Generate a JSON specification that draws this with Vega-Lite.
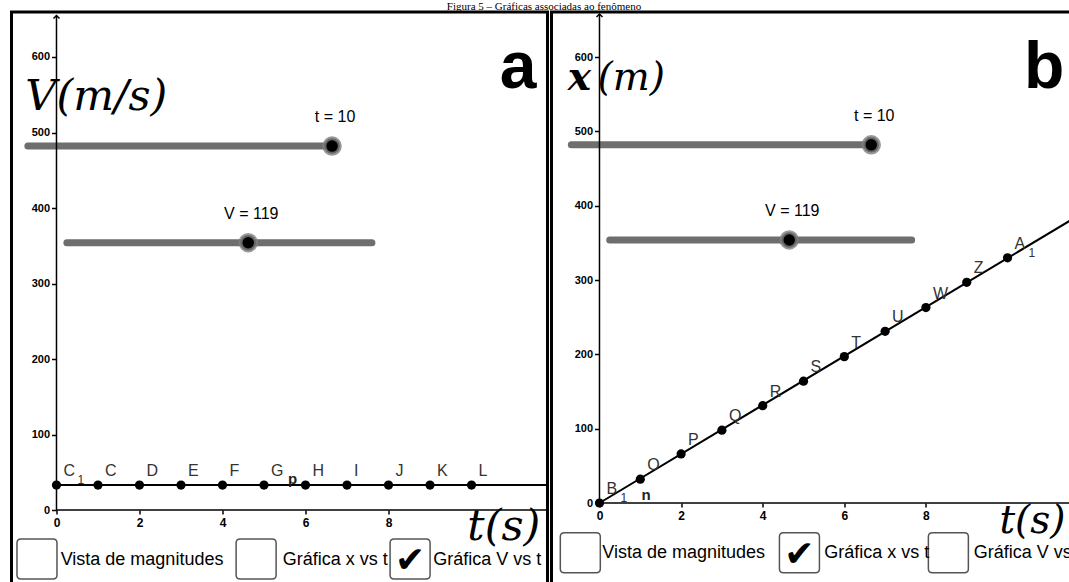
{
  "$schema": "https://vega.github.io/schema/vega-lite/v6.json",
  "background": "white",
  "padding": {"left": 9.5, "top": 0, "right": 0, "bottom": 0},
  "spacing": 0,
  "title": {"text": "Figura 5 – Gráficas associadas ao fenômeno", "font": "Liberation Serif", "fontSize": 11, "fontWeight": "normal", "color": "black", "offset": -2, "anchor": "middle"},
  "config": {
    "view": {"stroke": "black", "strokeWidth": 3, "fill": "white"},
    "concat": {"spacing": 0},
    "axis": {"grid": false, "domain": false, "ticks": true, "tickColor": "black", "tickWidth": 1.5, "labelColor": "black", "labelFont": "Liberation Sans", "labelFontWeight": "bold", "title": null, "labelOverlap": false, "labelFlush": false, "zindex": 1}
  },
  "datasets": {
    "a": [
      {"kind": "axis", "t": 0, "v": 0, "t2": 0, "v2": 655},
      {"kind": "axis", "t": 0, "v": 0, "t2": 12.5, "v2": 0},
      {"kind": "arrow", "t": 0, "v": 655},
      {"kind": "line", "t": 0, "v": 33, "t2": 12.5, "v2": 33},
      {"kind": "pt", "t": 0, "v": 33, "label": "C", "sub": "1"},
      {"kind": "pt", "t": 1, "v": 33, "label": "C"},
      {"kind": "pt", "t": 2, "v": 33, "label": "D"},
      {"kind": "pt", "t": 3, "v": 33, "label": "E"},
      {"kind": "pt", "t": 4, "v": 33, "label": "F"},
      {"kind": "pt", "t": 5, "v": 33, "label": "G"},
      {"kind": "pt", "t": 6, "v": 33, "label": "H"},
      {"kind": "pt", "t": 7, "v": 33, "label": "I"},
      {"kind": "pt", "t": 8, "v": 33, "label": "J"},
      {"kind": "pt", "t": 9, "v": 33, "label": "K"},
      {"kind": "pt", "t": 10, "v": 33, "label": "L"},
      {"kind": "stray", "t": 5.69, "v": 35, "label": "p"},
      {"kind": "slider", "t": -0.69, "v": 482, "t2": 6.64, "v2": 482},
      {"kind": "slider", "t": 0.25, "v": 354, "t2": 7.6, "v2": 354},
      {"kind": "knob", "t": 6.64, "v": 482, "label": "t = 10"},
      {"kind": "knob", "t": 4.62, "v": 354, "label": "V = 119"},
      {"kind": "serif", "t": -0.75, "v": 530, "label": "V(m/s)"},
      {"kind": "serif", "t": 9.9, "v": -40, "label": "t(s)"},
      {"kind": "letter", "t": 11.12, "v": 559, "label": "a"},
      {"kind": "box", "t": -0.47, "v": -65, "checked": false},
      {"kind": "box", "t": 4.81, "v": -65, "checked": false},
      {"kind": "box", "t": 8.52, "v": -65, "checked": true},
      {"kind": "boxlabel", "t": 0.1, "v": -73, "label": "Vista de magnitudes"},
      {"kind": "boxlabel", "t": 5.45, "v": -73, "label": "Gráfica x vs t"},
      {"kind": "boxlabel", "t": 9.08, "v": -73, "label": "Gráfica V vs t"}
    ],
    "b": [
      {"kind": "axis", "t": 0, "v": 0, "t2": 0, "v2": 658},
      {"kind": "axis", "t": 0, "v": 0, "t2": 12.5, "v2": 0},
      {"kind": "arrow", "t": 0, "v": 658},
      {"kind": "line", "t": 0, "v": 0, "t2": 12.5, "v2": 412},
      {"kind": "pt", "t": 0, "v": 0, "label": "B", "sub": "1"},
      {"kind": "pt", "t": 1, "v": 32, "label": "O"},
      {"kind": "pt", "t": 2, "v": 66, "label": "P"},
      {"kind": "pt", "t": 3, "v": 98, "label": "Q"},
      {"kind": "pt", "t": 4, "v": 131, "label": "R"},
      {"kind": "pt", "t": 5, "v": 164, "label": "S"},
      {"kind": "pt", "t": 6, "v": 197, "label": "T"},
      {"kind": "pt", "t": 7, "v": 231, "label": "U"},
      {"kind": "pt", "t": 8, "v": 263, "label": "W"},
      {"kind": "pt", "t": 9, "v": 297, "label": "Z"},
      {"kind": "pt", "t": 10, "v": 330, "label": "A", "sub": "1"},
      {"kind": "stray", "t": 1.14, "v": 4, "label": "n"},
      {"kind": "slider", "t": -0.69, "v": 482, "t2": 6.66, "v2": 482},
      {"kind": "slider", "t": 0.25, "v": 354, "t2": 7.65, "v2": 354},
      {"kind": "knob", "t": 6.66, "v": 482, "label": "t = 10"},
      {"kind": "knob", "t": 4.65, "v": 354, "label": "V = 119"},
      {"kind": "serifbold", "t": -0.78, "v": 556, "label": "x"},
      {"kind": "serif", "t": -0.05, "v": 556, "label": "(m)"},
      {"kind": "serif", "t": 9.8, "v": -40, "label": "t(s)"},
      {"kind": "letter", "t": 10.9, "v": 558, "label": "b"},
      {"kind": "box", "t": -0.47, "v": -67, "checked": false},
      {"kind": "box", "t": 4.9, "v": -67, "checked": true},
      {"kind": "box", "t": 8.55, "v": -67, "checked": false},
      {"kind": "boxlabel", "t": 0.07, "v": -74, "label": "Vista de magnitudes"},
      {"kind": "boxlabel", "t": 5.51, "v": -74, "label": "Gráfica x vs t"},
      {"kind": "boxlabel", "t": 9.17, "v": -74, "label": "Gráfica V vs t"}
    ]
  },
  "hconcat": [
    {
      "width": 536,
      "height": 572,
      "data": {"name": "a"},
      "encoding": {
        "x": {"field": "t", "type": "quantitative", "scale": {"domain": [-1.084, 11.831], "nice": false, "zero": false}, "axis": {"orient": "bottom", "offset": -74, "values": [0, 2, 4, 6, 8], "tickSize": 4, "labelPadding": 3, "labelFontSize": 12}},
        "y": {"field": "v", "type": "quantitative", "scale": {"domain": [-98, 659.6], "nice": false, "zero": false}, "axis": {"orient": "left", "offset": -45, "values": [0, 100, 200, 300, 400, 500, 600], "tickSize": 5, "labelPadding": 2, "labelFontSize": 11}}
      },
      "layer": [
        {"transform": [{"filter": "datum.kind === 'slider'"}], "mark": {"type": "rule", "strokeWidth": 7, "strokeCap": "round", "color": "#6e6e6e"}, "encoding": {"x2": {"field": "t2"}, "y2": {"field": "v2"}}},
        {"transform": [{"filter": "datum.kind === 'axis'"}], "mark": {"type": "rule", "clip": true, "strokeWidth": 1.5, "color": "black"}, "encoding": {"x2": {"field": "t2"}, "y2": {"field": "v2"}}},
        {"transform": [{"filter": "datum.kind === 'arrow'"}], "mark": {"type": "point", "shape": "M-1,1L0,0L1,1", "filled": false, "size": 36, "stroke": "black", "strokeWidth": 1.5, "opacity": 1}},
        {"transform": [{"filter": "datum.kind === 'line'"}], "mark": {"type": "rule", "clip": true, "strokeWidth": 2, "color": "black"}, "encoding": {"x2": {"field": "t2"}, "y2": {"field": "v2"}}},
        {"transform": [{"filter": "datum.kind === 'pt'"}], "mark": {"type": "point", "shape": "circle", "filled": true, "size": 85, "color": "black", "opacity": 1}},
        {"transform": [{"filter": "datum.kind === 'pt'"}], "mark": {"type": "text", "align": "left", "baseline": "alphabetic", "dx": 7, "dy": -9, "font": "Liberation Sans", "fontSize": 16, "color": "#333"}, "encoding": {"text": {"field": "label"}}},
        {"transform": [{"filter": "datum.kind === 'pt' && datum.sub"}], "mark": {"type": "text", "align": "left", "baseline": "alphabetic", "dx": 21, "dy": -1, "font": "Liberation Sans", "fontSize": 12, "color": "#333"}, "encoding": {"text": {"field": "sub"}}},
        {"transform": [{"filter": "datum.kind === 'stray'"}], "mark": {"type": "text", "align": "center", "baseline": "alphabetic", "font": "Liberation Sans", "fontSize": 15, "fontWeight": "bold", "color": "#222"}, "encoding": {"text": {"field": "label"}}},
        {"transform": [{"filter": "datum.kind === 'knob'"}], "mark": {"type": "point", "shape": "circle", "filled": true, "size": 240, "color": "black", "stroke": "#808080", "strokeWidth": 4, "strokeOpacity": 0.8, "opacity": 1}},
        {"transform": [{"filter": "datum.kind === 'knob'"}], "mark": {"type": "text", "align": "center", "baseline": "alphabetic", "dx": 3, "dy": -24, "font": "Liberation Sans", "fontSize": 16, "color": "black"}, "encoding": {"text": {"field": "label"}}},
        {"transform": [{"filter": "datum.kind === 'serif'"}], "mark": {"type": "text", "align": "left", "baseline": "alphabetic", "font": "DejaVu Serif", "fontStyle": "italic", "fontSize": 43, "color": "black"}, "encoding": {"text": {"field": "label"}}},
        {"transform": [{"filter": "datum.kind === 'letter'"}], "mark": {"type": "text", "align": "center", "baseline": "alphabetic", "font": "Liberation Sans", "fontWeight": "bold", "fontSize": 66, "color": "black"}, "encoding": {"text": {"field": "label"}}},
        {"transform": [{"filter": "datum.kind === 'box'"}], "mark": {"type": "point", "shape": "M-0.8,-1L0.8,-1Q1,-1,1,-0.8L1,0.8Q1,1,0.8,1L-0.8,1Q-1,1,-1,0.8L-1,-0.8Q-1,-1,-0.8,-1Z", "size": 1600, "filled": true, "fill": "white", "stroke": "#555", "strokeWidth": 1.5, "opacity": 1}},
        {"transform": [{"filter": "datum.kind === 'box' && datum.checked"}], "mark": {"type": "text", "text": "✔", "align": "center", "baseline": "middle", "dy": 2, "font": "DejaVu Sans", "fontSize": 36, "color": "black"}},
        {"transform": [{"filter": "datum.kind === 'boxlabel'"}], "mark": {"type": "text", "clip": true, "align": "left", "baseline": "alphabetic", "font": "Liberation Sans", "fontSize": 18, "color": "black"}, "encoding": {"text": {"field": "label"}}}
      ]
    },
    {
      "width": 525,
      "height": 572,
      "data": {"name": "b"},
      "encoding": {
        "x": {"field": "t", "type": "quantitative", "scale": {"domain": [-1.176, 11.69], "nice": false, "zero": false}, "axis": {"orient": "bottom", "offset": -81, "values": [0, 2, 4, 6, 8], "tickSize": 4, "labelPadding": 3, "labelFontSize": 12}},
        "y": {"field": "v", "type": "quantitative", "scale": {"domain": [-109, 660.8], "nice": false, "zero": false}, "axis": {"orient": "left", "offset": -48, "values": [0, 100, 200, 300, 400, 500, 600], "tickSize": 5, "labelPadding": 2, "labelFontSize": 11}}
      },
      "layer": [
        {"transform": [{"filter": "datum.kind === 'slider'"}], "mark": {"type": "rule", "strokeWidth": 7, "strokeCap": "round", "color": "#6e6e6e"}, "encoding": {"x2": {"field": "t2"}, "y2": {"field": "v2"}}},
        {"transform": [{"filter": "datum.kind === 'axis'"}], "mark": {"type": "rule", "clip": true, "strokeWidth": 1.5, "color": "black"}, "encoding": {"x2": {"field": "t2"}, "y2": {"field": "v2"}}},
        {"transform": [{"filter": "datum.kind === 'arrow'"}], "mark": {"type": "point", "shape": "M-1,1L0,0L1,1", "filled": false, "size": 36, "stroke": "black", "strokeWidth": 1.5, "opacity": 1}},
        {"transform": [{"filter": "datum.kind === 'line'"}], "mark": {"type": "rule", "clip": true, "strokeWidth": 2, "color": "black"}, "encoding": {"x2": {"field": "t2"}, "y2": {"field": "v2"}}},
        {"transform": [{"filter": "datum.kind === 'pt'"}], "mark": {"type": "point", "shape": "circle", "filled": true, "size": 85, "color": "black", "opacity": 1}},
        {"transform": [{"filter": "datum.kind === 'pt'"}], "mark": {"type": "text", "align": "left", "baseline": "alphabetic", "dx": 7, "dy": -9, "font": "Liberation Sans", "fontSize": 16, "color": "#333"}, "encoding": {"text": {"field": "label"}}},
        {"transform": [{"filter": "datum.kind === 'pt' && datum.sub"}], "mark": {"type": "text", "align": "left", "baseline": "alphabetic", "dx": 21, "dy": -1, "font": "Liberation Sans", "fontSize": 12, "color": "#333"}, "encoding": {"text": {"field": "sub"}}},
        {"transform": [{"filter": "datum.kind === 'stray'"}], "mark": {"type": "text", "align": "center", "baseline": "alphabetic", "font": "Liberation Sans", "fontSize": 15, "fontWeight": "bold", "color": "#222"}, "encoding": {"text": {"field": "label"}}},
        {"transform": [{"filter": "datum.kind === 'knob'"}], "mark": {"type": "point", "shape": "circle", "filled": true, "size": 240, "color": "black", "stroke": "#808080", "strokeWidth": 4, "strokeOpacity": 0.8, "opacity": 1}},
        {"transform": [{"filter": "datum.kind === 'knob'"}], "mark": {"type": "text", "align": "center", "baseline": "alphabetic", "dx": 3, "dy": -24, "font": "Liberation Sans", "fontSize": 16, "color": "black"}, "encoding": {"text": {"field": "label"}}},
        {"transform": [{"filter": "datum.kind === 'serif'"}], "mark": {"type": "text", "align": "left", "baseline": "alphabetic", "font": "DejaVu Serif", "fontStyle": "italic", "fontSize": 39, "color": "black"}, "encoding": {"text": {"field": "label"}}},
        {"transform": [{"filter": "datum.kind === 'serifbold'"}], "mark": {"type": "text", "align": "left", "baseline": "alphabetic", "font": "DejaVu Serif", "fontStyle": "italic", "fontWeight": "bold", "fontSize": 39, "color": "black"}, "encoding": {"text": {"field": "label"}}},
        {"transform": [{"filter": "datum.kind === 'letter'"}], "mark": {"type": "text", "align": "center", "baseline": "alphabetic", "font": "Liberation Sans", "fontWeight": "bold", "fontSize": 66, "color": "black"}, "encoding": {"text": {"field": "label"}}},
        {"transform": [{"filter": "datum.kind === 'box'"}], "mark": {"type": "point", "shape": "M-0.8,-1L0.8,-1Q1,-1,1,-0.8L1,0.8Q1,1,0.8,1L-0.8,1Q-1,1,-1,0.8L-1,-0.8Q-1,-1,-0.8,-1Z", "size": 1600, "filled": true, "fill": "white", "stroke": "#555", "strokeWidth": 1.5, "opacity": 1}},
        {"transform": [{"filter": "datum.kind === 'box' && datum.checked"}], "mark": {"type": "text", "text": "✔", "align": "center", "baseline": "middle", "dy": 2, "font": "DejaVu Sans", "fontSize": 36, "color": "black"}},
        {"transform": [{"filter": "datum.kind === 'boxlabel'"}], "mark": {"type": "text", "clip": true, "align": "left", "baseline": "alphabetic", "font": "Liberation Sans", "fontSize": 18, "color": "black"}, "encoding": {"text": {"field": "label"}}}
      ]
    }
  ]
}
